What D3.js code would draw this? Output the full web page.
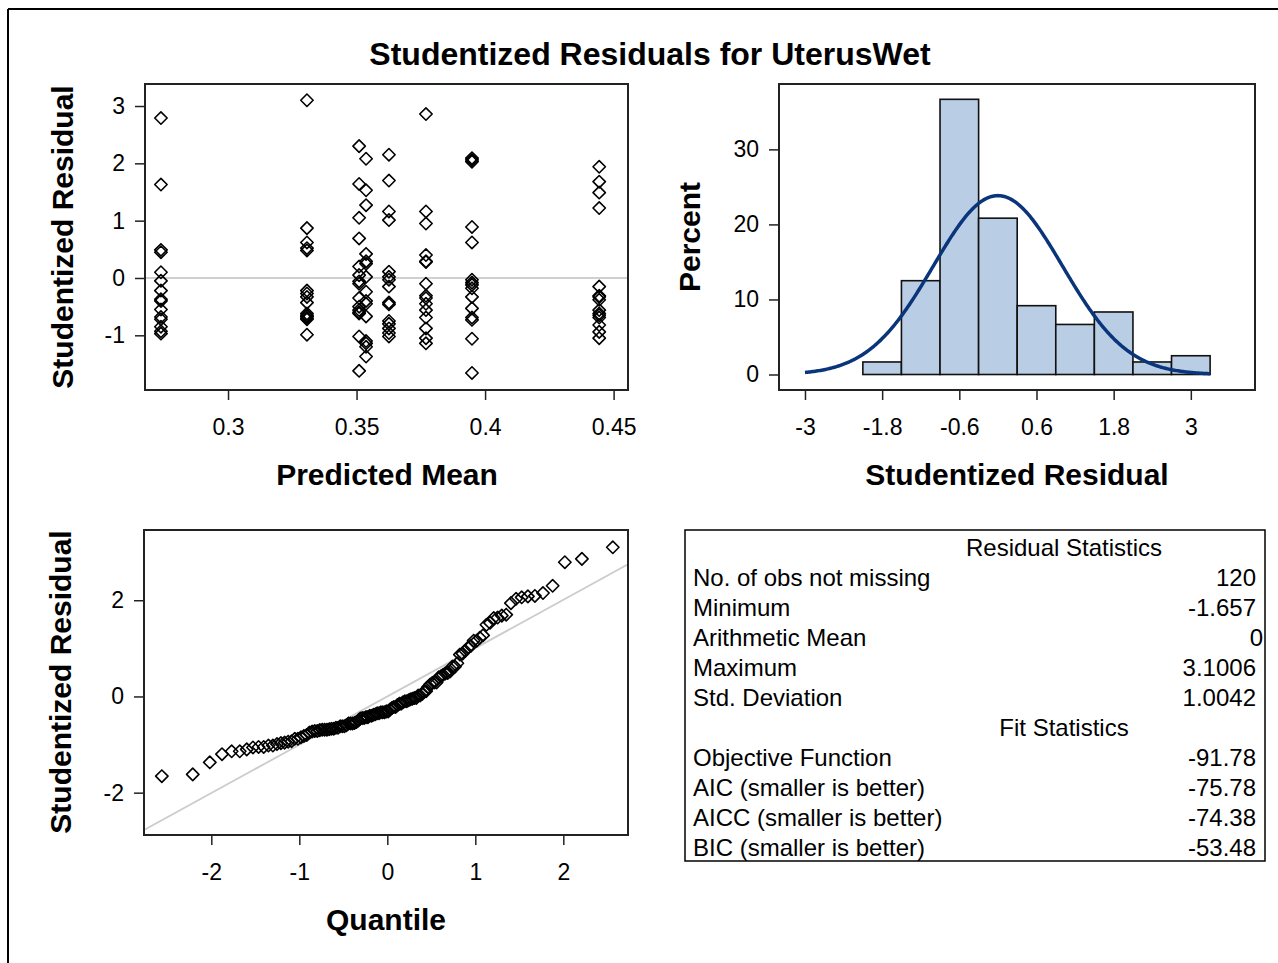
<!DOCTYPE html>
<html><head><meta charset="utf-8">
<script src="https://cdn.jsdelivr.net/npm/d3@7"></script>
<style>
body{margin:0;background:#fff}
svg{display:block}
text{font-family:"Liberation Sans",Arial,Helvetica,sans-serif;fill:#000}
</style>
</head><body>
<svg id="c" width="1278" height="963"></svg>
<script>
// ---------------- data ----------------
const chartTitle = "Studentized Residuals for UterusWet";
const predictedMeans = [0.2739, 0.3307, 0.3510, 0.3537, 0.3626, 0.3770, 0.3949, 0.4444];
const residualsG1 = [2.79, 1.63, 0.49, 0.45, 0.10, -0.05, -0.22, -0.37, -0.40, -0.55, -0.68, -0.72, -0.85, -0.93, -0.97];
const residualsG2 = [3.1006, 0.87, 0.62, 0.52, 0.48, -0.22, -0.27, -0.33, -0.43, -0.62, -0.65, -0.67, -0.70, -0.72, -0.99];
const residualsG3 = [2.30, 1.64, 1.05, 0.69, 0.20, 0.05, -0.06, -0.10, -0.35, -0.50, -0.56, -0.60, -0.62, -1.02, -1.62];
const residualsG4 = [2.08, 1.53, 1.27, 0.42, 0.25, 0.29, -0.45, 0.02, -0.24, -0.40, -0.67, -1.10, -1.14, -1.20, -1.37];
const residualsG5 = [2.15, 1.70, 1.16, 1.01, 0.11, 0.02, -0.03, -0.15, -0.43, -0.46, -0.75, -0.80, -0.88, -0.96, -1.02];
const residualsG6 = [2.86, 1.16, 0.95, 0.40, 0.28, 0.29, -0.10, -0.31, -0.35, -0.45, -0.56, -0.69, -0.88, -1.05, -1.14];
const residualsG7 = [2.09, 2.06, 2.03, 0.89, 0.62, -0.03, -0.08, -0.12, -0.18, -0.33, -0.53, -0.69, -0.73, -1.06, -1.657];
const residualsG8 = [1.94, 1.68, 1.49, 1.22, -0.15, -0.31, -0.33, -0.38, -0.56, -0.62, -0.65, -0.69, -0.82, -0.94, -1.05];
const residualGroups = [residualsG1, residualsG2, residualsG3, residualsG4, residualsG5, residualsG6, residualsG7, residualsG8];

const histBinStarts = [-2.1, -1.5, -0.9, -0.3, 0.3, 0.9, 1.5, 2.1, 2.7];
const histBinWidth = 0.6;
const histPercent = [1.67, 12.50, 36.67, 20.83, 9.17, 6.67, 8.33, 1.67, 2.50];

const scatterXTicks = [0.3, 0.35, 0.4, 0.45];
const scatterYTicks = [-1, 0, 1, 2, 3];
const histXTicks = [-3, -1.8, -0.6, 0.6, 1.8, 3];
const histYTicks = [0, 10, 20, 30];
const qqXTicks = [-2, -1, 0, 1, 2];
const qqYTicks = [-2, 0, 2];

const residualStatLabels = ["No. of obs not missing", "Minimum", "Arithmetic Mean", "Maximum", "Std. Deviation"];
const residualStatValues = ["120", "-1.657", "0", "3.1006", "1.0042"];
const fitStatLabels = ["Objective Function", "AIC (smaller is better)", "AICC (smaller is better)", "BIC (smaller is better)"];
const fitStatValues = ["-91.78", "-75.78", "-74.38", "-53.48"];
const fitMean = 0, fitStd = 1.0042;

// ---------------- helpers ----------------
const svg = d3.select("#c");
const FRAME = "#222";
const diamond = "M0,-6.2L6.2,0L0,6.2L-6.2,0Z";

// outer border
svg.append("line").attr("x1",8).attr("y1",9).attr("x2",1278).attr("y2",9).attr("stroke","#000").attr("stroke-width",2);
svg.append("line").attr("x1",8).attr("y1",9).attr("x2",8).attr("y2",963).attr("stroke","#000").attr("stroke-width",2);

svg.append("text").attr("x",650).attr("y",65).attr("text-anchor","middle")
  .style("font-size","32px").style("font-weight","bold").text(chartTitle);

function styleAxis(g){
  g.select(".domain").remove();
  g.selectAll(".tick line").attr("stroke",FRAME).attr("stroke-width",1.5);
  g.selectAll(".tick text").style("font-size","23px").attr("fill","#000");
}
function fmt(v){ return String(v); }

function panel(id, x, y, xTicks, yTicks){
  const [x0,x1] = x.range(), [y1,y0] = y.range();
  const g = svg.append("g");
  svg.append("clipPath").attr("id",id).append("rect").attr("x",x0).attr("y",y0).attr("width",x1-x0).attr("height",y1-y0);
  g.append("g").attr("transform",`translate(0,${y1})`)
    .call(d3.axisBottom(x).tickValues(xTicks).tickSize(10).tickPadding(19).tickFormat(fmt)).call(styleAxis);
  g.append("g").attr("transform",`translate(${x0},0)`)
    .call(d3.axisLeft(y).tickValues(yTicks).tickSize(10).tickPadding(10).tickFormat(fmt)).call(styleAxis);
  const plot = g.append("g").attr("clip-path",`url(#${id})`);
  const frame = () => g.append("rect").attr("x",x0).attr("y",y0).attr("width",x1-x0).attr("height",y1-y0)
    .attr("fill","none").attr("stroke",FRAME).attr("stroke-width",2);
  return {g, plot, frame};
}
function axisLabel(txt, x, y, rot){
  const t = svg.append("text").attr("text-anchor","middle").style("font-size","30px").style("font-weight","bold").text(txt);
  if (rot) t.attr("transform",`translate(${x},${y}) rotate(-90)`);
  else t.attr("x",x).attr("y",y);
}

// ---------------- scatter: residual vs predicted ----------------
{
  const x = d3.scaleLinear().domain([0.2677, 0.4556]).range([145, 628]);
  const y = d3.scaleLinear().domain([-1.954, 3.384]).range([390, 84]);
  const p = panel("clipA", x, y, scatterXTicks, scatterYTicks);
  p.plot.append("line").attr("x1",145).attr("x2",628).attr("y1",y(0)).attr("y2",y(0))
    .attr("stroke","#d0d0d0").attr("stroke-width",1.8);
  const pts = [];
  residualGroups.forEach((grp,i)=>grp.forEach(r=>pts.push([predictedMeans[i], r])));
  p.plot.selectAll("path.pt").data(pts).join("path").attr("class","pt")
    .attr("d",diamond).attr("transform",d=>`translate(${x(d[0])},${y(d[1])})`)
    .attr("fill","none").attr("stroke","#000").attr("stroke-width",1.6).attr("stroke-linejoin","round");
  p.frame();
  axisLabel("Predicted Mean", 387, 485);
  axisLabel("Studentized Residual", 73, 237, true);
}

// ---------------- histogram ----------------
{
  const x = d3.scaleLinear().domain([-3.404, 3.998]).range([779, 1255]);
  const y = d3.scaleLinear().domain([-2.065, 38.71]).range([390, 84]);
  const p = panel("clipB", x, y, histXTicks, histYTicks);
  p.plot.selectAll("rect.bar").data(histBinStarts).join("rect").attr("class","bar")
    .attr("x",d=>x(d)).attr("width",d=>x(d+histBinWidth)-x(d))
    .attr("y",(d,i)=>y(histPercent[i])).attr("height",(d,i)=>y(0)-y(histPercent[i]))
    .attr("fill","#b9cde5").attr("stroke","#111").attr("stroke-width",1.6);
  const curve = d3.range(-3, 3.3001, 0.02).map(v=>[v, 100*histBinWidth*Math.exp(-0.5*((v-fitMean)/fitStd)**2)/(fitStd*Math.sqrt(2*Math.PI))]);
  p.plot.append("path").datum(curve).attr("d",d3.line().x(d=>x(d[0])).y(d=>y(d[1])))
    .attr("fill","none").attr("stroke","#0a357a").attr("stroke-width",3.5);
  p.frame();
  axisLabel("Studentized Residual", 1017, 485);
  axisLabel("Percent", 700, 237, true);
}

// ---------------- QQ plot ----------------
function invNorm(p){
  const a=[-3.969683028665376e+01,2.209460984245205e+02,-2.759285104469687e+02,1.383577518672690e+02,-3.066479806614716e+01,2.506628277459239e+00];
  const b=[-5.447609879822406e+01,1.615858368580409e+02,-1.556989798598866e+02,6.680131188771972e+01,-1.328068155288572e+01];
  const c=[-7.784894002430293e-03,-3.223964580411365e-01,-2.400758277161838e+00,-2.549732539343734e+00,4.374664141464968e+00,2.938163982698783e+00];
  const d=[7.784695709041462e-03,3.224671290700398e-01,2.445134137142996e+00,3.754408661907416e+00];
  const pl=0.02425, ph=1-pl; let q,r;
  if(p<pl){q=Math.sqrt(-2*Math.log(p));return (((((c[0]*q+c[1])*q+c[2])*q+c[3])*q+c[4])*q+c[5])/((((d[0]*q+d[1])*q+d[2])*q+d[3])*q+1);}
  if(p<=ph){q=p-0.5;r=q*q;return (((((a[0]*r+a[1])*r+a[2])*r+a[3])*r+a[4])*r+a[5])*q/(((((b[0]*r+b[1])*r+b[2])*r+b[3])*r+b[4])*r+1);}
  q=Math.sqrt(-2*Math.log(1-p));return -(((((c[0]*q+c[1])*q+c[2])*q+c[3])*q+c[4])*q+c[5])/((((d[0]*q+d[1])*q+d[2])*q+d[3])*q+1);
}
{
  const x = d3.scaleLinear().domain([-2.765, 2.735]).range([144, 628]);
  const y = d3.scaleLinear().domain([-2.88, 3.46]).range([835, 530]);
  const p = panel("clipC", x, y, qqXTicks, qqYTicks);
  const sorted = residualGroups.flat().sort((a,b)=>a-b);
  const n = sorted.length;
  const qq = sorted.map((r,i)=>[invNorm((i+1-0.375)/(n+0.25)), r]);
  const [dx0,dx1] = x.domain();
  p.plot.append("line").attr("x1",x(dx0)).attr("x2",x(dx1))
    .attr("y1",y(fitMean+fitStd*dx0)).attr("y2",y(fitMean+fitStd*dx1))
    .attr("stroke","#cccccc").attr("stroke-width",1.8);
  p.plot.selectAll("path.pt").data(qq).join("path").attr("class","pt")
    .attr("d",diamond).attr("transform",d=>`translate(${x(d[0])},${y(d[1])})`)
    .attr("fill","none").attr("stroke","#000").attr("stroke-width",1.6).attr("stroke-linejoin","round");
  p.frame();
  axisLabel("Quantile", 386, 930);
  axisLabel("Studentized Residual", 71, 682, true);
}

// ---------------- statistics table ----------------
{
  const g = svg.append("g").style("font-size","24px");
  g.append("rect").attr("x",685).attr("y",530).attr("width",580).attr("height",331)
    .attr("fill","none").attr("stroke","#000").attr("stroke-width",1.5);
  const rows = [];
  rows.push({head:"Residual Statistics"});
  residualStatLabels.forEach((l,i)=>rows.push({label:l, value:residualStatValues[i]}));
  rows.push({head:"Fit Statistics"});
  fitStatLabels.forEach((l,i)=>rows.push({label:l, value:fitStatValues[i]}));
  rows.forEach((r,i)=>{
    const yy = 556 + i*30;
    if (r.head) g.append("text").attr("x",1064).attr("y",yy).attr("text-anchor","middle").text(r.head);
    else {
      g.append("text").attr("x",693).attr("y",yy).text(r.label);
      g.append("text").attr("x",r.value === "0" ? 1263 : 1256).attr("y",yy).attr("text-anchor","end").text(r.value);
    }
  });
}
</script>
</body></html>
